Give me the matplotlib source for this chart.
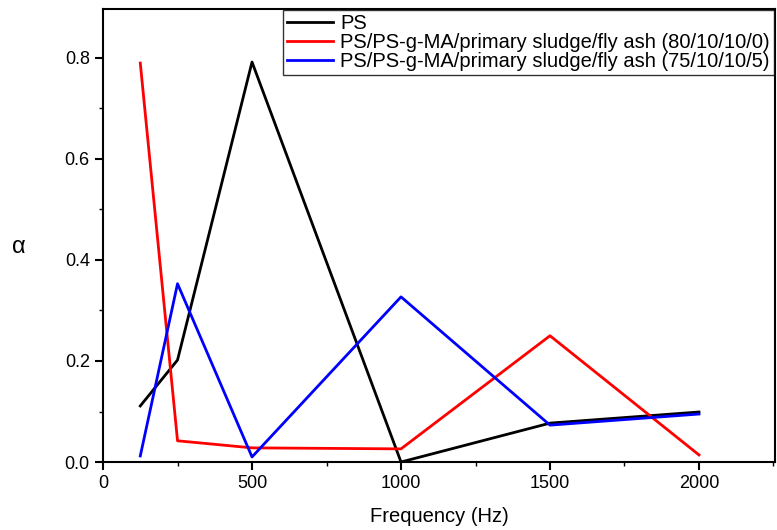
import matplotlib
matplotlib.use("Agg")
import matplotlib.pyplot as plt
from matplotlib.ticker import MultipleLocator

plt.rcParams["font.family"] = ["Liberation Sans", "DejaVu Sans"]

freq = [125, 250, 500, 1000, 1500, 2000]
ps = [0.111, 0.202, 0.792, 0.0, 0.077, 0.099]
blend_80 = [0.790, 0.042, 0.028, 0.026, 0.250, 0.014]
blend_75 = [0.012, 0.353, 0.010, 0.327, 0.073, 0.095]

labels = [
    "PS",
    "PS/PS-g-MA/primary sludge/fly ash (80/10/10/0)",
    "PS/PS-g-MA/primary sludge/fly ash (75/10/10/5)",
]

fig = plt.figure(figsize=(7.77, 5.30), dpi=100)
ax = fig.add_axes([0.1326, 0.1283, 0.8648, 0.8547])

ax.plot(freq, ps, color="black", lw=2.0, label=labels[0])
ax.plot(freq, blend_80, color="red", lw=2.0, label=labels[1])
ax.plot(freq, blend_75, color="blue", lw=2.0, label=labels[2])

ax.set_xlim(0, 2255)
ax.set_ylim(0, 0.897)
ax.xaxis.set_major_locator(MultipleLocator(500))
ax.xaxis.set_minor_locator(MultipleLocator(250))
ax.yaxis.set_major_locator(MultipleLocator(0.2))
ax.yaxis.set_minor_locator(MultipleLocator(0.1))
ax.yaxis.set_major_formatter(matplotlib.ticker.FormatStrFormatter("%.1f"))

ax.tick_params(which="major", direction="out", length=6, width=1.5, labelsize=13)
ax.tick_params(which="minor", direction="out", length=3, width=1.0)
for s in ax.spines.values():
    s.set_linewidth(1.5)

ax.set_xlabel("Frequency (Hz)", fontsize=14.5, labelpad=11)
ax.set_ylabel("α", fontsize=17, rotation=0)
ax.yaxis.set_label_coords(-0.125, 0.45)

leg = ax.legend(loc="upper right", fontsize=14.5, frameon=True, fancybox=False,
                edgecolor="black", borderaxespad=0.05, handlelength=2.3,
                borderpad=0.2, labelspacing=0.0, handletextpad=0.35)
leg.get_frame().set_linewidth(1.0)

fig.savefig("out.png", dpi=100)
